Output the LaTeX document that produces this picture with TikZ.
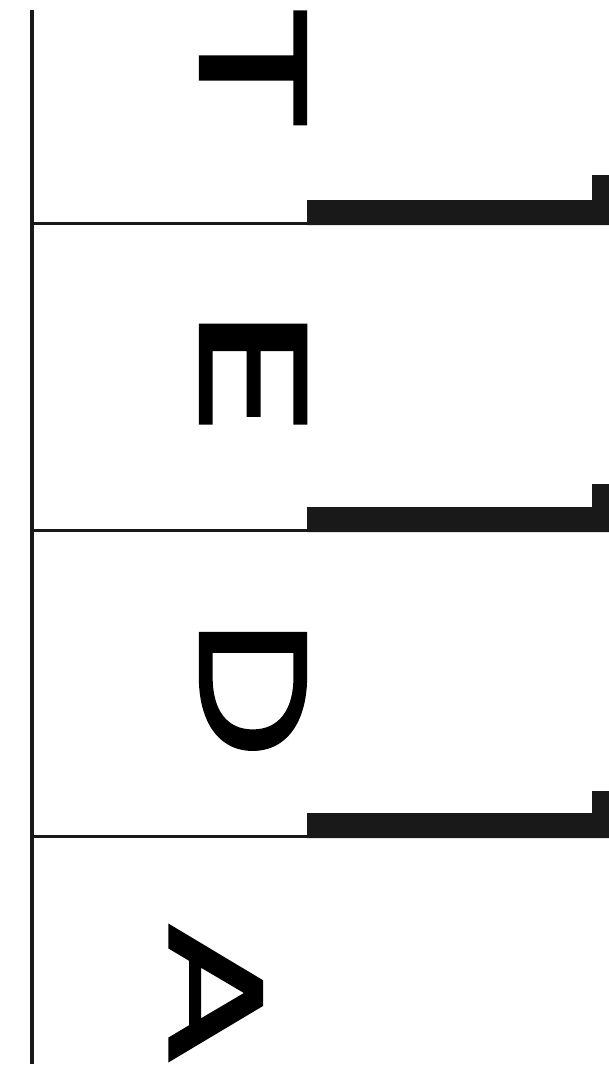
\documentclass[tikz,border=0pt]{standalone}
\usepackage{fontspec}
\setmainfont{Poppins}
\newfontfamily\tedafont[FakeBold=1.6]{Poppins}
\usetikzlibrary{positioning}

\begin{document}
\begin{tikzpicture}[x=0.5pt,y=-0.5pt,
  letter/.style={rotate=-90,inner sep=0pt,text height=53pt,text depth=0pt,
                 font=\fontsize{76}{76}\tedafont},
  rule/.style={line width=1.5pt,black!90},
  spine/.style={line width=2pt,black!90},
  bar/.style={fill=black!90,draw=none}
]
  \useasboundingbox (0,0) rectangle (609,1066);

  % main vertical line
  \coordinate (top) at (32,10);
  \coordinate (bottom) at (32,1064);
  \draw[spine] (top) -- (bottom);

  % letters
  \node[letter,xscale=1.55] (t) at (253,68)  {T};
  \node[letter,xscale=1.7]  (e) at (253,372) {E};
  \node[letter,xscale=1.3]  (d) at (253,688) {D};
  \node[letter,xscale=1.45,yscale=0.88] (a) at (216,993) {A};

  % dividers: thin rule, then thick bar with hook at the end
  \foreach \y/\h in {223/48,530/46,836/45}{
    \coordinate (l) at (32,\y);
    \coordinate (m) at (308,\y);
    \draw[rule] (l) -- (m);
    \fill[bar] (307,\y+2) -- (307,\y-23) -- (592,\y-23) -- (592,\y-\h)
               -- (609,\y-\h) -- (609,\y+2) -- cycle;
  }
\end{tikzpicture}
\end{document}
